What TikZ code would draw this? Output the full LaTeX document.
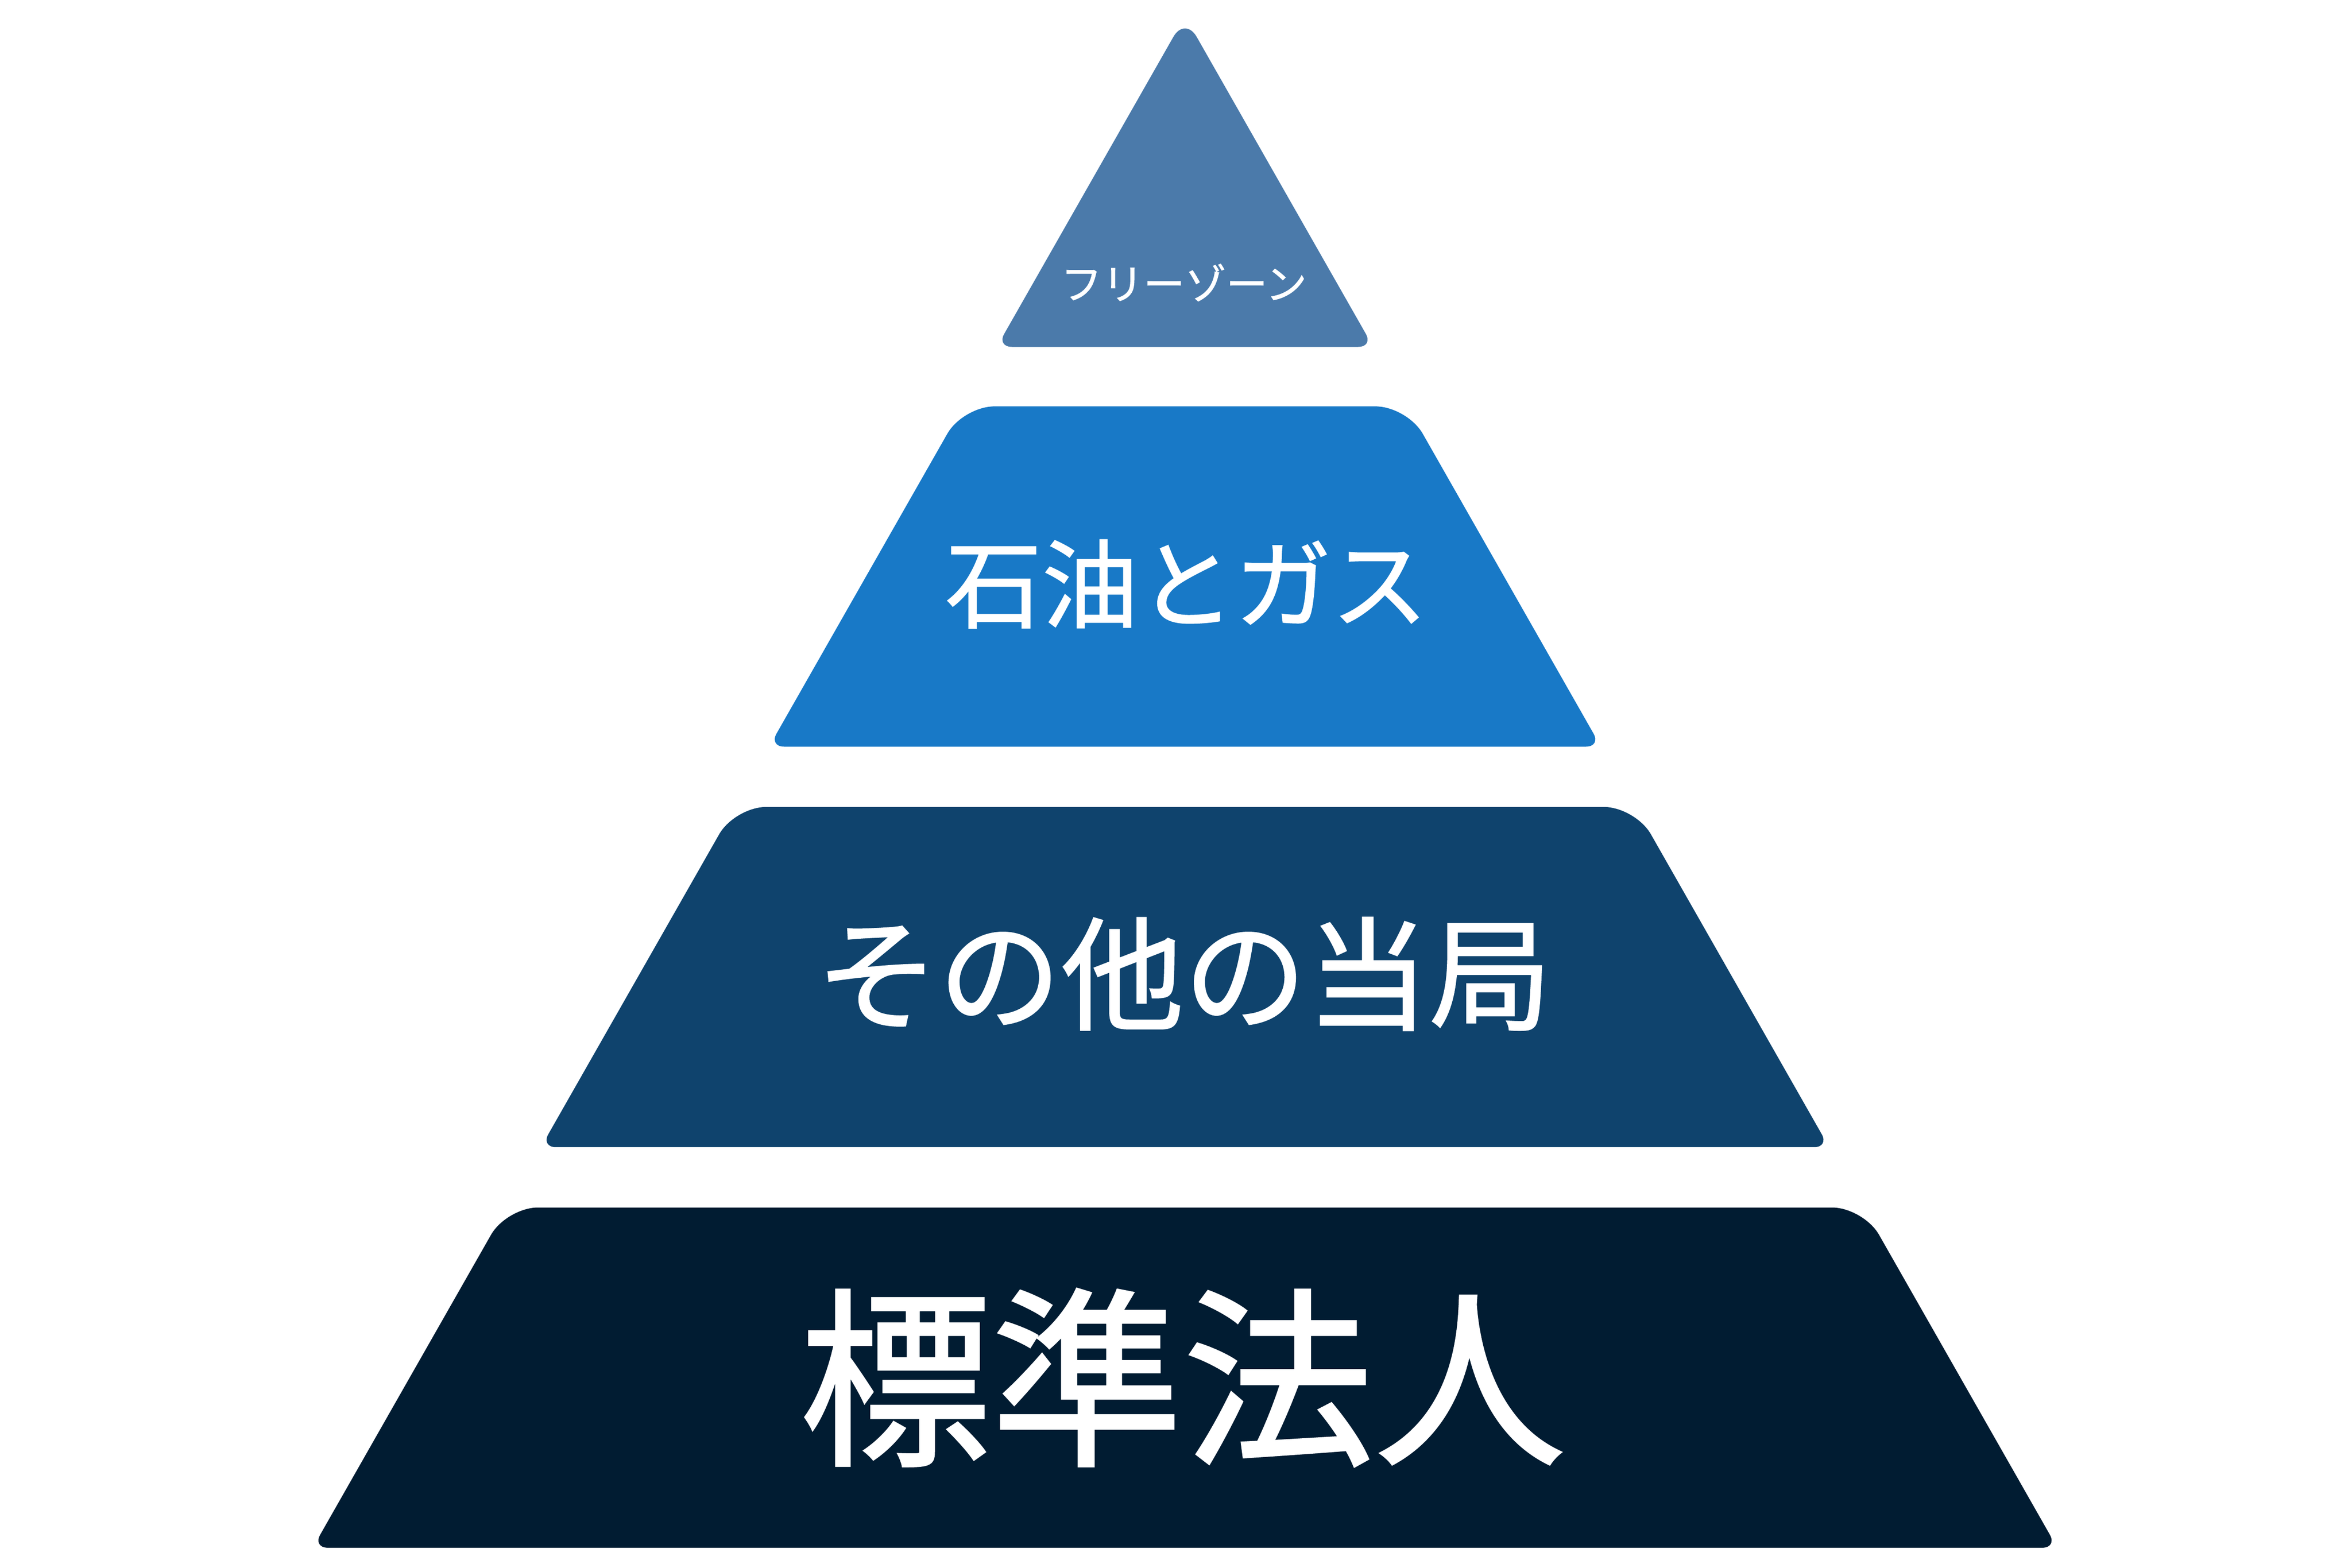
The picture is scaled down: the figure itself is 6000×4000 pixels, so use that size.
\documentclass[tikz,border=0pt]{standalone}
\usepackage{fontspec}
\newfontfamily\cjk[FakeBold=1.2]{Noto Sans CJK JP}
\usetikzlibrary{calc}
\definecolor{bandA}{HTML}{4B7AAA}
\definecolor{bandB}{HTML}{1879C7}
\definecolor{bandC}{HTML}{0F436D}
\definecolor{bandD}{HTML}{011C32}
\newcommand\pyrcx{3023}
\newcommand\pyray{42}
\newcommand\pyrk{0.5695}
\newcommand\pyrtop{0.8cm}
\newcommand\pyrtopc{0.358cm}
\newcommand\pyrbot{0.38cm}
\newcommand\pyrbotc{0.17cm}
\newcommand\pyrapex{0.6cm}
\newcommand\pyrapexc{0.269cm}
\newcommand\roundcorner[5]{-- ($(#2)!#4!(#1)$) .. controls ($(#2)!#5!(#1)$) and ($(#2)!#5!(#3)$) .. ($(#2)!#4!(#3)$)}
\newcommand\pyrband[4]{%
  \coordinate (#1-tl) at ({\pyrcx-\pyrk*(#2-\pyray)},#2);
  \coordinate (#1-tr) at ({\pyrcx+\pyrk*(#2-\pyray)},#2);
  \coordinate (#1-bl) at ({\pyrcx-\pyrk*(#3-\pyray)},#3);
  \coordinate (#1-br) at ({\pyrcx+\pyrk*(#3-\pyray)},#3);
  \fill[#4] ($(#1-bl)!0.5!(#1-br)$)
    \roundcorner{#1-bl}{#1-br}{#1-tr}{\pyrbot}{\pyrbotc}
    \roundcorner{#1-br}{#1-tr}{#1-tl}{\pyrtop}{\pyrtopc}
    \roundcorner{#1-tr}{#1-tl}{#1-bl}{\pyrtop}{\pyrtopc}
    \roundcorner{#1-tl}{#1-bl}{#1-br}{\pyrbot}{\pyrbotc} -- cycle;
}
\tikzset{lbl/.style={text=white, inner sep=0pt, anchor=center}}
\begin{document}
\begin{tikzpicture}[x=0.01cm, y=-0.01cm]
\useasboundingbox[fill=white] (0,0) rectangle (6000,4000);
% top triangle
\coordinate (a-apex) at (\pyrcx,\pyray);
\coordinate (a-bl) at ({\pyrcx-\pyrk*(885-\pyray)},885);
\coordinate (a-br) at ({\pyrcx+\pyrk*(885-\pyray)},885);
\fill[bandA] ($(a-bl)!0.5!(a-br)$)
  \roundcorner{a-bl}{a-br}{a-apex}{\pyrbot}{\pyrbotc}
  \roundcorner{a-br}{a-apex}{a-bl}{\pyrapex}{\pyrapexc}
  \roundcorner{a-apex}{a-bl}{a-br}{\pyrbot}{\pyrbotc} -- cycle;
\pyrband{b}{1037}{1905}{bandB}
\pyrband{c}{2059}{2927}{bandC}
\pyrband{d}{3081}{3949}{bandD}
\node[lbl, font=\cjk\fontsize{30}{30}\selectfont] (t1) at (3020,721) {フリーゾーン};
\node[lbl, font=\cjk\fontsize{70}{70}\selectfont] (t2) at (3027,1490) {石油とガス};
\node[lbl, font=\cjk\fontsize{89}{89}\selectfont] (t3) at (3020,2485) {その他の当局};
\node[lbl, font=\cjk\fontsize{139}{139}\selectfont] (t4) at (3017,3515) {標準法人};
\end{tikzpicture}
\end{document}
